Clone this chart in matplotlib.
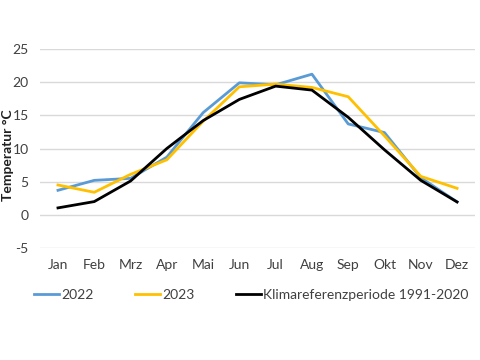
import matplotlib
matplotlib.use('Agg')
import matplotlib.pyplot as plt

plt.rcParams.update({
    'font.family': ['Lato', 'DejaVu Sans'],
    'font.size': 10,
    'axes.unicode_minus': False,
})

months = ['Jan', 'Feb', 'Mrz', 'Apr', 'Mai', 'Jun', 'Jul', 'Aug', 'Sep', 'Okt', 'Nov', 'Dez']
t_2022 = [3.7, 5.2, 5.5, 8.7, 15.4, 19.9, 19.6, 21.2, 13.7, 12.4, 5.6, 1.95]
t_2023 = [4.5, 3.4, 6.1, 8.3, 14.1, 19.3, 19.7, 19.2, 17.8, 11.9, 5.8, 4.0]
t_ref = [1.05, 2.0, 5.1, 10.0, 14.2, 17.4, 19.4, 18.8, 14.7, 9.8, 5.2, 1.95]
series_labels = ['2022', '2023', 'Klimareferenzperiode 1991-2020']
colors = ['#5B9BD5', '#FFC000', '#000000']
yticks = [-5, 0, 5, 10, 15, 20, 25]

fig = plt.figure(figsize=(4.8, 3.6), dpi=100)
ax = fig.add_axes([0.083, 0.311, 0.907, 0.553])

x = range(len(months))
for vals, lab, col in zip([t_2022, t_2023, t_ref], series_labels, colors):
    ax.plot(x, vals, color=col, linewidth=2.0, label=lab, solid_joinstyle='round')

ax.set_xlim(-0.5, len(months) - 0.5)
ax.set_ylim(-5, 25)
ax.set_yticks(yticks)
ax.set_xticks(list(x))
ax.set_xticklabels(months)
ax.yaxis.grid(True, color='#D9D9D9', linewidth=1)
ax.set_axisbelow(True)
for s in ax.spines.values():
    s.set_visible(False)
ax.tick_params(length=0, colors='#404040', labelsize=10)
ax.tick_params(axis='x', pad=8)
ax.tick_params(axis='y', pad=8)
fig.text(8 / 480, 1 - 155 / 360, 'Temperatur °C', rotation=90, ha='center', va='center',
         fontweight='bold', color='#202020', fontsize=10)

fig.legend(loc='center left', bbox_to_anchor=(0.045, 0.18), ncol=3, frameon=False,
           handlelength=1.8, handletextpad=0.15, columnspacing=3.0, fontsize=10,
           labelcolor='#404040')

fig.savefig('out.png', dpi=100)
